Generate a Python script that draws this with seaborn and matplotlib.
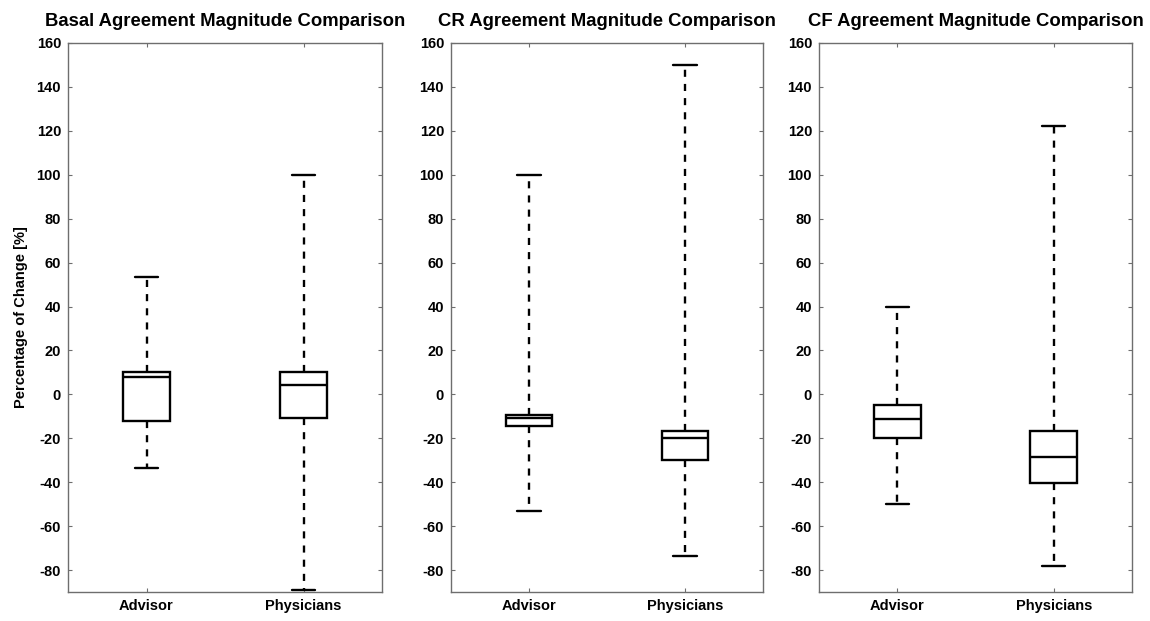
import matplotlib
matplotlib.use("Agg")
import matplotlib.pyplot as plt
import seaborn as sns
import pandas as pd

sns.set_theme(style="white")
plt.rcParams['font.family'] = ['Liberation Sans', 'DejaVu Sans']
plt.rcParams['font.weight'] = 'bold'
plt.rcParams['text.color'] = 'black'
plt.rcParams['axes.labelcolor'] = 'black'

groups = ["Advisor", "Physicians"]
titles = ["Basal Agreement Magnitude Comparison",
          "CR Agreement Magnitude Comparison",
          "CF Agreement Magnitude Comparison"]

# five-number summaries: [min, Q1, median, Q3, max]
basal_advisor = [-33.4, -12.3, 7.8, 10.2, 53.6]
basal_physicians = [-89.3, -10.8, 4.3, 10.2, 100.0]
cr_advisor = [-53.1, -14.2, -10.6, -9.6, 100.0]
cr_physicians = [-73.4, -29.8, -19.8, -16.5, 150.0]
cf_advisor = [-50.0, -19.8, -11.1, -5.0, 40.0]
cf_physicians = [-78.0, -40.2, -28.7, -16.5, 122.0]

panels = [(basal_advisor, basal_physicians),
          (cr_advisor, cr_physicians),
          (cf_advisor, cf_physicians)]

yticks = list(range(-80, 161, 20))

fig = plt.figure(figsize=(11.5, 6.21), dpi=100)
W, H = 1150, 621
lefts = [68, 451, 819]
rights = [382, 763, 1132]
top, bottom = 43, 592

spine_col = "#6e6e6e"
for i, (adv, phy) in enumerate(panels):
    ax = fig.add_axes([lefts[i] / W, 1 - bottom / H,
                       (rights[i] - lefts[i]) / W, (bottom - top) / H])
    df = pd.DataFrame({"group": [groups[0]] * len(adv) + [groups[1]] * len(phy),
                       "value": adv + phy})
    sns.boxplot(data=df, x="group", y="value", ax=ax, whis=(0, 100),
                width=0.3, color="white", linecolor="black", linewidth=1.7,
                fliersize=0,
                whiskerprops={"linestyle": (0, (3, 3)), "linewidth": 1.7},
                capprops={"linewidth": 1.7},
                medianprops={"linewidth": 1.7})
    ax.set_xlim(-0.5, 1.5)
    ax.set_ylim(-90, 160)
    ax.set_yticks(yticks)
    ax.set_yticklabels([str(t) for t in yticks], fontsize=10.5,
                       fontweight="bold", color="black")
    ax.set_xticks([0, 1])
    ax.set_xticklabels(groups, fontsize=10.5, fontweight="bold", color="black")
    ax.set_xlabel("")
    ax.set_ylabel("Percentage of Change [%]" if i == 0 else "",
                  fontsize=10.5, fontweight="bold", labelpad=6, color="black")
    ax.set_title(titles[i], fontsize=13.3, fontweight="bold", pad=12, color="black")
    ax.tick_params(axis="both", direction="in", length=3, width=0.8,
                   color=spine_col, pad=5,
                   left=True, right=True, bottom=True, top=True, labelcolor="black")
    for s in ax.spines.values():
        s.set_visible(True)
        s.set_color(spine_col)
        s.set_linewidth(1.0)

fig.savefig("out.png", dpi=100, facecolor="white")
